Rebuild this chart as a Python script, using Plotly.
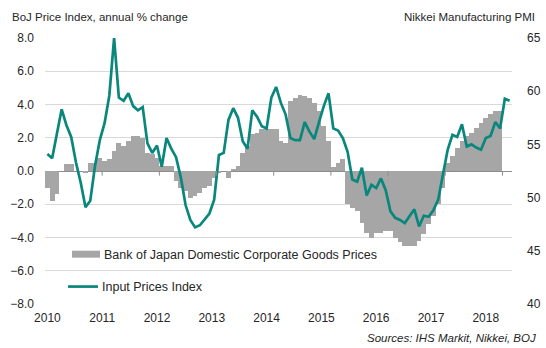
import plotly.graph_objects as go
import pandas as pd

# ---- data ----
months = pd.date_range("2010-01-01", "2018-02-01", freq="MS").strftime("%Y-%m").tolist()

boj_cgpi = [
    # 2010
    -1.0, -1.8, -1.4, 0.0, 0.4, 0.4, 0.0, 0.0, -0.1, 0.5, 0.5, 0.8,
    # 2011
    0.6, 0.7, 1.2, 1.7, 1.5, 1.8, 2.1, 2.1, 2.0, 1.1, 1.0, 0.8,
    # 2012
    0.3, 0.3, 0.3, -0.6, -1.0, -1.2, -1.6, -1.5, -1.3, -1.0, -0.9, -0.4,
    # 2013
    -0.1, 0.0, -0.4, 0.1, 0.3, 1.1, 1.5, 2.2, 2.3, 2.5, 2.5, 2.5,
    # 2014
    2.5, 1.8, 1.7, 4.2, 4.4, 4.6, 4.5, 4.4, 4.1, 3.6, 2.7, 1.8,
    # 2015
    0.25, 0.5, 0.7, -2.0, -2.2, -2.4, -3.1, -3.7, -4.0, -3.7, -3.7, -3.6,
    # 2016
    -3.6, -4.0, -4.3, -4.5, -4.5, -4.5, -4.2, -3.8, -3.2, -2.7, -2.0, -1.0,
    # 2017
    0.5, 0.9, 1.4, 1.8, 2.1, 2.3, 2.6, 2.9, 3.2, 3.4, 3.6, 3.6,
]

input_prices_pmi = [
    # 2010
    54.1, 53.7, 56.0, 58.3, 56.8, 55.7, 53.3, 51.4, 49.1, 49.7, 53.0, 55.4,
    # 2011
    57.0, 59.6, 65.0, 59.4, 59.1, 59.8, 58.6, 58.2, 58.5, 55.1, 54.2, 54.9,
    # 2012
    52.9, 55.6, 54.6, 53.8, 51.9, 49.3, 47.9, 47.2, 47.4, 48.0, 48.5, 49.8,
    # 2013
    54.0, 54.2, 57.3, 58.4, 57.5, 55.3, 54.6, 58.2, 57.6, 56.7, 56.5, 59.4,
    # 2014
    60.4, 58.9, 57.8, 55.6, 55.4, 55.4, 57.1, 56.2, 55.5, 57.1, 58.6, 59.8,
    # 2015
    56.5, 56.3, 55.6, 54.3, 51.7, 51.5, 52.8, 50.2, 51.2, 50.9, 51.8, 50.7,
    # 2016
    48.7, 48.1, 47.9, 47.6, 48.2, 48.9, 47.3, 48.3, 48.2, 48.8, 49.8, 52.1,
    # 2017
    54.5, 55.9, 55.7, 56.9, 54.8, 55.0, 54.7, 54.5, 55.6, 55.8, 57.1, 56.5,
    # 2018
    59.3, 59.1,
]

year_labels = ["2010", "2011", "2012", "2013", "2014", "2015", "2016", "2017", "2018"]
left_ticks = [-8, -6, -4, -2, 0, 2, 4, 6, 8]
right_ticks = [40, 45, 50, 55, 60, 65]

bar_name = "Bank of Japan Domestic Corporate Goods Prices"
line_name = "Input Prices Index"

# ---- styling ----
FONT = "Liberation Sans, Arial, sans-serif"
TXT = "#262626"
BAR_C = "#a6a6a6"
LINE_C = "#0a877c"
GRID_C = "#d9d9d9"

n = len(months)
xb = list(range(len(boj_cgpi)))
xl = list(range(len(input_prices_pmi)))

fig = go.Figure()
fig.add_trace(go.Bar(x=xb, y=boj_cgpi, marker=dict(color=BAR_C, line=dict(width=0)),
                     width=1.0, name=bar_name, showlegend=False, yaxis="y"))
fig.add_trace(go.Scatter(x=xl, y=input_prices_pmi, mode="lines",
                         line=dict(color=LINE_C, width=2.7), name=line_name,
                         showlegend=False, yaxis="y2"))

# small ticks on the zero line at year boundaries
shapes = []
for k in range(1, n // 12 + 1):
    xv = 12 * k - 0.5
    shapes.append(dict(type="line", xref="x", yref="y", x0=xv, x1=xv, y0=0, y1=-0.28,
                       line=dict(color="#8c8c8c", width=1)))

# manual legend
shapes.append(dict(type="rect", xref="paper", yref="paper",
                   x0=(72 - 45) / 467, x1=(100 - 45) / 467,
                   y0=(304.5 - 258) / 267, y1=(304.5 - 251) / 267,
                   fillcolor=BAR_C, line=dict(width=0)))
shapes.append(dict(type="line", xref="paper", yref="paper",
                   x0=(68 - 45) / 467, x1=(98 - 45) / 467,
                   y0=(304.5 - 287) / 267, y1=(304.5 - 287) / 267,
                   line=dict(color=LINE_C, width=2.7)))

annotations = [
    dict(text=bar_name, xref="paper", yref="paper", x=(102 - 45) / 467, y=(304.5 - 255) / 267,
         xanchor="left", yanchor="middle", showarrow=False, font=dict(size=12.5, color=TXT, family=FONT)),
    dict(text=line_name, xref="paper", yref="paper", x=(100 - 45) / 467, y=(304.5 - 287) / 267,
         xanchor="left", yanchor="middle", showarrow=False, font=dict(size=12.5, color=TXT, family=FONT)),
    dict(text="BoJ Price Index, annual % change", xref="paper", yref="paper",
         x=-35 / 467, y=(304.5 - 16) / 267, xanchor="left", yanchor="middle", showarrow=False,
         font=dict(size=11.5, color=TXT, family=FONT)),
    dict(text="Nikkei Manufacturing PMI", xref="paper", yref="paper",
         x=(537 - 45) / 467, y=(304.5 - 16) / 267, xanchor="right", yanchor="middle", showarrow=False,
         font=dict(size=11.5, color=TXT, family=FONT)),
    dict(text="<i>Sources: IHS Markit, Nikkei, BOJ</i>", xref="paper", yref="paper",
         x=(538 - 45) / 467, y=(304.5 - 339) / 267, xanchor="right", yanchor="middle", showarrow=False,
         font=dict(size=11.5, color=TXT, family=FONT)),
]

fig.update_layout(
    width=546, height=348,
    margin=dict(l=45, r=34, t=37.5, b=43.5, pad=0, autoexpand=False),
    paper_bgcolor="white", plot_bgcolor="white",
    bargap=0, showlegend=False,
    font=dict(family=FONT, size=12, color=TXT),
    xaxis=dict(range=[-0.5, n - 0.5], tickvals=[11.5 * i for i in range(len(year_labels))],
               ticktext=year_labels, showgrid=False, zeroline=False, showline=False,
               ticks="", tickfont=dict(size=12, color=TXT), ticklabelstandoff=5,
               automargin=False),
    yaxis=dict(range=[-8, 8], tickvals=left_ticks, tickformat=".1f", showgrid=True,
               gridcolor=GRID_C, gridwidth=1, zeroline=True, zerolinecolor="#8c8c8c",
               zerolinewidth=1, showline=False, ticks="", tickfont=dict(size=12, color=TXT),
               ticklabelstandoff=10, automargin=False),
    yaxis2=dict(range=[40, 65], tickvals=right_ticks, overlaying="y", side="right",
                showgrid=False, zeroline=False, showline=False, ticks="",
                tickfont=dict(size=12, color=TXT), ticklabelstandoff=14, automargin=False),
    shapes=shapes, annotations=annotations,
)

fig.write_html("out.html")
